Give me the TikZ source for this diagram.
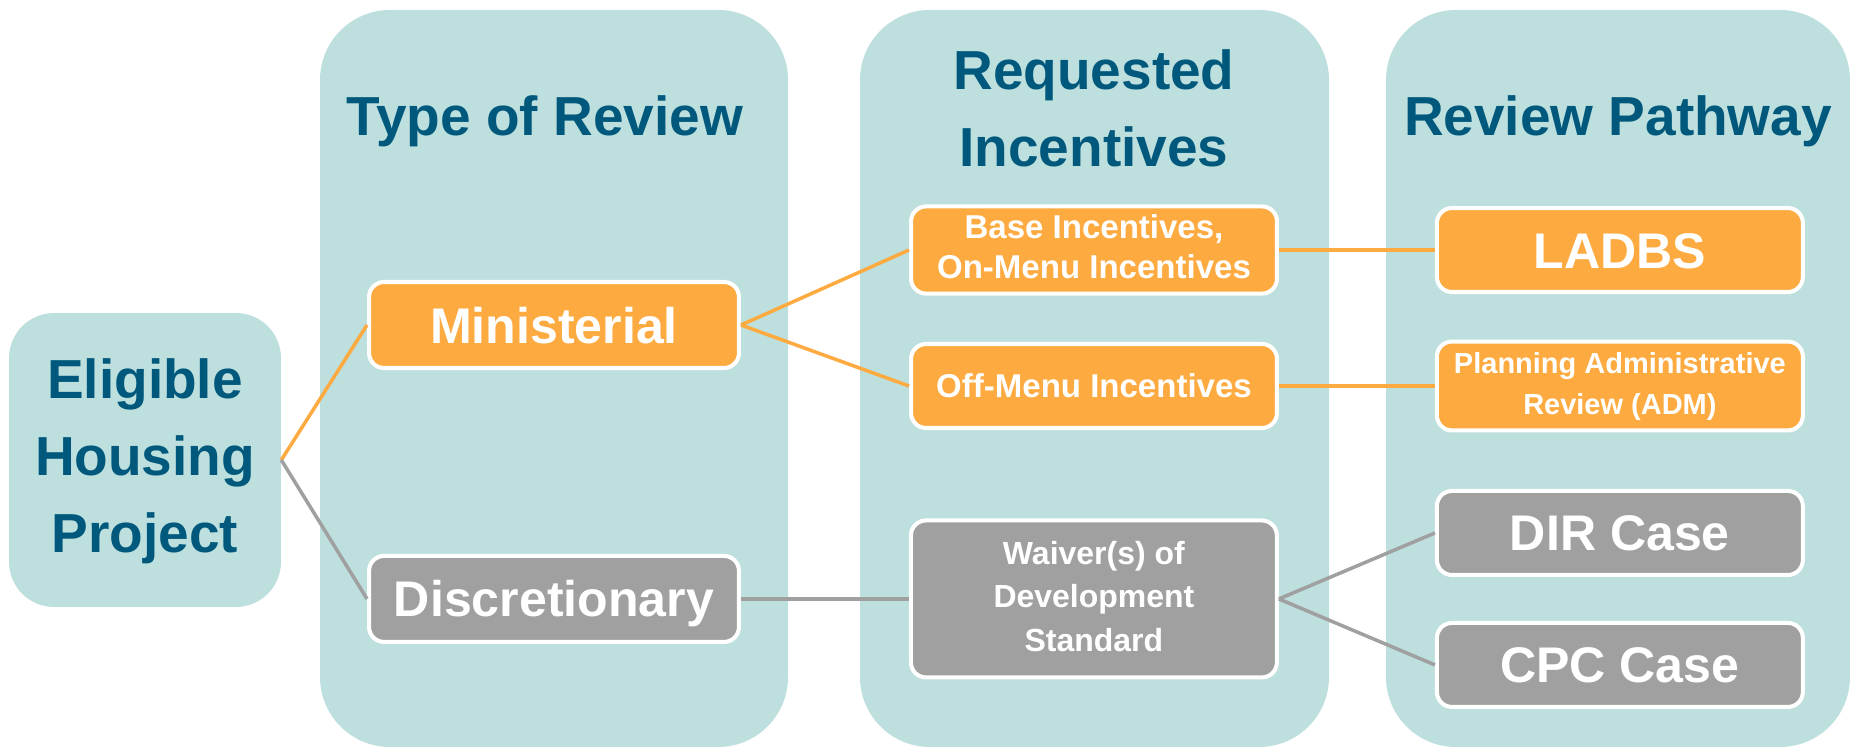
\documentclass[tikz,border=0pt]{standalone}
\usepackage{fontspec}
\setmainfont{Liberation Sans}
\usetikzlibrary{positioning}
\definecolor{panel}{RGB}{189,223,222}
\definecolor{ladorange}{RGB}{253,170,65}
\definecolor{ladgrey}{RGB}{160,160,160}
\definecolor{ladblue}{RGB}{0,89,124}
\tikzset{
    column/.style={
           fill=panel,
           rounded corners=1.4cm,
           },
    heading/.style={
           text=ladblue,
           inner sep=0pt,
           font=\fontsize{31.3}{43.8}\selectfont\bfseries,
           },
    box/.style={
           rectangle,
           rounded corners=0.3cm,
           draw=white,
           line width=2.3pt,
           minimum width=7.32cm,
           minimum height=1.68cm,
           text=white,
           inner sep=2pt,
           text centered,
           },
    orangebox/.style={box, fill=ladorange},
    greybox/.style={box, fill=ladgrey},
    bigtext/.style={
           font=\fontsize{28.5}{34}\selectfont\bfseries,
           text height=20.5pt,
           text depth=0pt,
           },
    midtext/.style={font=\fontsize{18.8}{22.8}\selectfont\bfseries},
    smalltext/.style={font=\fontsize{16.5}{23.3}\selectfont\bfseries},
    orangeline/.style={draw=ladorange, line width=2pt},
    greyline/.style={draw=ladgrey, line width=2pt},
}
\begin{document}
\begin{tikzpicture}[x=0.02cm, y=0.02cm]
 \useasboundingbox (0,0) rectangle (1850,747);

 \fill[column] (320,0) rectangle (788,737);
 \fill[column] (860,0) rectangle (1329,737);
 \fill[column] (1386,0) rectangle (1850,737);

 \node[heading, anchor=base] (TYPEHEAD) at (545,611) {Type of Review};
 \node[heading] (INCHEAD) at (1094,634)
 {\begin{tabular}{c}
   Requested\\
   Incentives
  \end{tabular}};
 \node[heading, anchor=base] (PATHHEAD) at (1618,611) {Review Pathway};

 \node[heading,
 fill=panel,
 rounded corners=0.9cm,
 minimum width=5.44cm,
 minimum height=5.88cm,
 ] (ELIGIBLE) at (145,287)
 {\begin{tabular}{c}
   Eligible\\
   Housing\\
   Project
  \end{tabular}};

 \node[orangebox, bigtext,
 minimum width=7.4cm,
 minimum height=1.72cm,
 ] (MINISTERIAL) at (554,422) {Ministerial};

 \node[greybox, bigtext,
 minimum width=7.4cm,
 minimum height=1.72cm,
 node distance=5.48cm,
 below of=MINISTERIAL,
 ] (DISCRETIONARY) {Discretionary};

 \node[greybox, midtext,
 minimum height=3.14cm,
 node distance=10.8cm,
 right of=DISCRETIONARY,
 font=\fontsize{18.2}{24.8}\selectfont\bfseries,
 ] (WAIVER)
 {\begin{tabular}{c}
   Waiver(s) of\\
   Development\\
   Standard
  \end{tabular}};

 \node[orangebox, midtext] (OFFMENU) at (1094,361) {Off-Menu Incentives};

 \node[orangebox, midtext,
 node distance=2.72cm,
 above of=OFFMENU,
 ] (BASE)
 {\begin{tabular}{c}
   Base Incentives,\\
   On-Menu Incentives
  \end{tabular}};

 \node[orangebox, bigtext,
 node distance=10.52cm,
 right of=BASE,
 ] (LADBS) {LADBS};

 \node[orangebox, smalltext,
 node distance=10.52cm,
 right of=OFFMENU,
 ] (ADM)
 {\begin{tabular}{c}
   Planning Administrative\\
   Review (ADM)
  \end{tabular}};

 \node[greybox, bigtext,
 node distance=2.94cm,
 below of=ADM,
 ] (DIR) {DIR Case};

 \node[greybox, bigtext,
 node distance=2.64cm,
 below of=DIR,
 ] (CPC) {CPC Case};

 \path (ELIGIBLE.east) edge[orangeline] (MINISTERIAL.west)
   (ELIGIBLE.east) edge[greyline] (DISCRETIONARY.west)
   (MINISTERIAL.east) edge[orangeline] (BASE.west)
   (MINISTERIAL.east) edge[orangeline] (OFFMENU.west)
   (BASE.east) edge[orangeline] (LADBS.west)
   (OFFMENU.east) edge[orangeline] (ADM.west)
   (DISCRETIONARY.east) edge[greyline] (WAIVER.west)
   (WAIVER.east) edge[greyline] (DIR.west)
   (WAIVER.east) edge[greyline] (CPC.west)
 ;
\end{tikzpicture}
\end{document}
